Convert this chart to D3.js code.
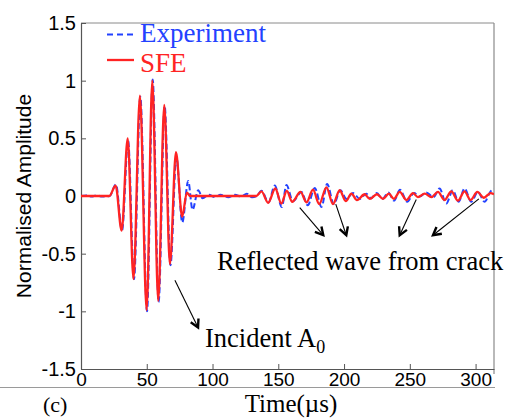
<!DOCTYPE html>
<html>
<head>
<meta charset="utf-8">
<script src="https://cdn.jsdelivr.net/npm/d3@7"></script>
<style>
  html, body { margin: 0; padding: 0; background: #fff; }
  svg { display: block; }
</style>
</head>
<body>
<svg id="chart" width="510" height="419"></svg>
<script>
// ---------- data (time in µs, normalised amplitude) ----------
const xTicks = [0, 50, 100, 150, 200, 250, 300];
const yTicks = [-1.5, -1, -0.5, 0, 0.5, 1, 1.5];
const seriesNames = ["Experiment", "SFE"];

const experiment = [
  [0,0],[4,0.005],[8,-0.005],[12,0.005],[16,-0.005],[21.8,0],
  [26.6,0.10],[31.2,-0.30],[35.8,0.48],[40.3,-0.72],[45.1,0.86],[50.2,-1.00],
  [54.5,1.01],[59.0,-0.92],[63.6,0.78],[68.0,-0.60],[72.5,0.34],[77.0,-0.23],
  [81.5,0.13],[84.8,-0.12],[89.1,0.05],[92.5,-0.02],[97,0.01],[102,-0.01],
  [106,0.01],[112,-0.01],[117,0.01],[122,-0.005],[126,0.02],[130,-0.01],[133.5,0],
  [137.2,0.045],[142.6,-0.055],[147.3,0.09],[152.7,-0.095],[156.2,0.095],[161.1,-0.045],
  [167.6,0.035],[172.4,-0.08],[177.7,0.07],[182.9,-0.095],[187.1,0.105],[192.2,-0.07],
  [197.2,0.05],[201.8,-0.025],[206.8,0.025],[212.0,-0.025],[216.8,0.02],[220.5,-0.02],
  [224.8,0.025],[229.2,-0.025],[233.6,0.03],[238.0,-0.04],[242.5,0.055],[248.0,-0.05],
  [253.2,0.025],[257.5,-0.005],[262.5,0.03],[268.0,-0.01],[272.6,0.065],[277.7,-0.065],
  [282.7,0.05],[287.1,-0.05],[291.6,0.065],[296.7,-0.05],[301.8,0.035],[306.8,-0.05],
  [311.4,0.04],[314,0.06]
];

const sfe = [
  [0,0],[5,0],[10,0],[15,0],[21.5,0],
  [26.3,0.09],[30.9,-0.30],[35.5,0.50],[39.9,-0.72],[44.8,0.87],[49.9,-0.99],
  [54.2,1.00],[58.7,-0.91],[63.3,0.79],[67.6,-0.59],[72.2,0.38],[76.9,-0.18],[80.5,0.03],
  [83,0],[90,0],[100,0],[110,0],[120,0],[130,0],[133.4,0],
  [137.2,0.04],[142.3,-0.06],[147.7,0.065],[152.3,-0.065],[156.5,0.045],[160.6,-0.05],
  [166.9,0.035],[171.4,-0.055],[176.4,0.055],[181.1,-0.07],[186.6,0.075],[191.6,-0.07],
  [196.7,0.05],[201.3,-0.045],[205.6,0.02],[209.8,-0.035],[215.7,0.015],[219.5,-0.025],
  [225.0,0.015],[229.6,-0.025],[234.1,0.02],[237.9,-0.025],[242.3,0.035],[247.4,-0.035],
  [252.4,0.025],[256.2,-0.01],[261.3,0.02],[266.4,-0.01],[271.4,0.035],[276.4,-0.035],
  [281.5,0.04],[286.6,-0.04],[291.6,0.04],[296.2,-0.035],[301.3,0.035],[306.3,-0.015],
  [311.4,0.025],[314,0.015]
];

// annotation arrows: [fromTime, fromAmp, toTime, toAmp]
const reflectedArrows = [
  [166.3,-0.10,184.2,-0.34],
  [193.7,-0.07,201.7,-0.34],
  [254.9,-0.03,242.3,-0.34],
  [302.5,-0.025,267.6,-0.34]
];
const incidentArrow = [71.4,-0.73,89.0,-1.14];

// ---------- layout ----------
const svg = d3.select("#chart");
const L = 81, R = 494, T = 23, B = 369;
const x = d3.scaleLinear().domain([0, 314]).range([L, R]);
const y = d3.scaleLinear().domain([-1.5, 1.5]).range([B, T]);

const sans = "'Liberation Sans', Arial, sans-serif";
const serif = "'Liberation Serif', 'Times New Roman', serif";
const red = "#ff2323", blue = "#2342ff";

svg.append("defs").append("clipPath").attr("id", "clip")
  .append("rect").attr("x", L).attr("y", T).attr("width", R - L).attr("height", B - T);

// frame (top & right)
svg.append("line").attr("x1", L).attr("x2", R).attr("y1", T).attr("y2", T)
  .attr("stroke", "#8a8a8a").attr("stroke-width", 1);
svg.append("line").attr("x1", R).attr("x2", R).attr("y1", T).attr("y2", B + 5)
  .attr("stroke", "#8a8a8a").attr("stroke-width", 1.2);

// separator line under the axis
svg.append("line").attr("x1", 0).attr("x2", 495).attr("y1", 387.5).attr("y2", 387.5)
  .attr("stroke", "#9a9a9a").attr("stroke-width", 1);

// axes
const xAxis = d3.axisBottom(x).tickValues(xTicks).tickFormat(d => String(d))
  .tickSizeInner(-5).tickSizeOuter(0).tickPadding(4);
const gx = svg.append("g").attr("transform", `translate(0,${B})`).call(xAxis);
gx.selectAll("text").attr("font-family", sans).attr("font-size", 19).attr("fill", "#000");

const yAxis = d3.axisLeft(y).tickValues(yTicks).tickFormat(d => String(d))
  .tickSizeInner(-5).tickSizeOuter(0).tickPadding(5);
const gy = svg.append("g").attr("transform", `translate(${L},0)`).call(yAxis);
gy.selectAll("text").attr("font-family", sans).attr("font-size", 20).attr("fill", "#000");

[gx, gy].forEach(g => {
  g.select(".domain").attr("stroke", "#555").attr("stroke-width", 1.2);
  g.selectAll(".tick line").attr("stroke", "#555");
});

// lines
const line = d3.line().x(d => x(d[0])).y(d => y(d[1])).curve(d3.curveMonotoneX);
const plot = svg.append("g").attr("clip-path", "url(#clip)");
plot.append("path").datum(experiment).attr("d", line)
  .attr("fill", "none").attr("stroke", blue).attr("stroke-width", 2)
  .attr("stroke-dasharray", "6,3");
plot.append("path").datum(sfe).attr("d", line)
  .attr("fill", "none").attr("stroke", red).attr("stroke-width", 2.3);

// legend
const lg = svg.append("g");
lg.append("line").attr("x1", 107).attr("x2", 134).attr("y1", 34.5).attr("y2", 34.5)
  .attr("stroke", blue).attr("stroke-width", 2).attr("stroke-dasharray", "6,4");
lg.append("text").attr("x", 140).attr("y", 42).text(seriesNames[0])
  .attr("font-family", serif).attr("font-size", 27).attr("fill", blue);
lg.append("line").attr("x1", 107).attr("x2", 134).attr("y1", 60).attr("y2", 60)
  .attr("stroke", red).attr("stroke-width", 2.3);
lg.append("text").attr("x", 140).attr("y", 71.5).text(seriesNames[1])
  .attr("font-family", serif).attr("font-size", 27).attr("fill", red);

// arrows
function arrow(a) {
  const x1 = x(a[0]), y1 = y(a[1]), x2 = x(a[2]), y2 = y(a[3]);
  const ang = Math.atan2(y2 - y1, x2 - x1);
  const g = svg.append("g");
  g.append("line").attr("x1", x1).attr("y1", y1).attr("x2", x2).attr("y2", y2)
    .attr("stroke", "#000").attr("stroke-width", 1.1);
  const hl = 9, hw = 0.5;
  const p1 = [x2 - hl * Math.cos(ang - hw), y2 - hl * Math.sin(ang - hw)];
  const p2 = [x2 - hl * Math.cos(ang + hw), y2 - hl * Math.sin(ang + hw)];
  g.append("path").attr("d", `M${p1[0]},${p1[1]}L${x2},${y2}L${p2[0]},${p2[1]}`)
    .attr("fill", "none").attr("stroke", "#000").attr("stroke-width", 2.4)
    .attr("stroke-linejoin", "miter");
}
reflectedArrows.forEach(arrow);
arrow(incidentArrow);

// annotation text
svg.append("text").attr("x", 217).attr("y", 269.5).text("Reflected wave from crack")
  .attr("font-family", serif).attr("font-size", 26.5).attr("fill", "#000");
const inc = svg.append("text").attr("x", 205).attr("y", 346.5)
  .attr("font-family", serif).attr("font-size", 26.5).attr("fill", "#000");
inc.append("tspan").text("Incident A");
inc.append("tspan").text("0").attr("font-size", 18).attr("dy", 6);

// labels
svg.append("text").attr("transform", "translate(31,196) rotate(-90)")
  .attr("text-anchor", "middle").text("Normalised Amplitude")
  .attr("font-family", sans).attr("font-size", 21).attr("fill", "#000");
svg.append("text").attr("x", 291).attr("y", 412).attr("text-anchor", "middle")
  .text("Time(\u00b5s)").attr("font-family", serif).attr("font-size", 25).attr("fill", "#000");
svg.append("text").attr("x", 43).attr("y", 412).text("(c)")
  .attr("font-family", serif).attr("font-size", 22).attr("fill", "#000");
</script>
</body>
</html>
